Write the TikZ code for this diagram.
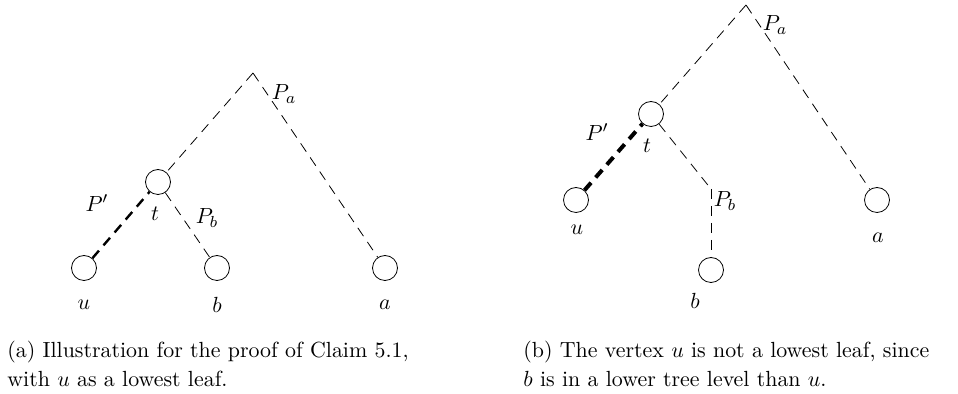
\documentclass[tikz,border=0pt]{standalone}
\usepackage{amsmath}
\usetikzlibrary{positioning}
\tikzstyle{vertex} = [
    circle,
    draw,
    minimum size=12.5pt,
    inner sep=0pt
]
\tikzstyle{pathedge} = [
    dash pattern=on 5pt off 3.5pt,
    thin
]
\tikzstyle{heavyedge} = [
    dash pattern=on 5pt off 3.5pt,
    line width=1.2pt
]
\tikzstyle{caption} = [
    align=left,
    anchor=north west,
    inner sep=0pt
]

\begin{document}
\begin{tikzpicture}[x=0.5pt, y=-0.5pt, every node/.style={font=\fontsize{10.95}{14.5}\selectfont}]
    \useasboundingbox (0,0) rectangle (958,394);

    % (a) u is a lowest leaf
    \coordinate (rootA) at (253, 73);
    \node[vertex] (tA) at (158, 182) {};
    \node[vertex] (uA) at (84, 268) {};
    \node[vertex] (bA) at (217, 268) {};
    \node[vertex] (aA) at (385, 268) {};

    \node (paA) at (284, 94) {$P_a$};
    \node (tlabA) at (155, 214) {$t$};
    \node (pprA) at (97, 203) {$P'$};
    \node (pbA) at (207, 218) {$P_b$};
    \node (ulabA) at (84, 305) {$u$};
    \node (blabA) at (217, 305) {$b$};
    \node (alabA) at (385, 305) {$a$};

    \draw[pathedge] (rootA) -- (tA);
    \draw[pathedge] (rootA) -- (aA);
    \draw[pathedge] (tA) -- (bA);
    \draw[heavyedge] (uA) -- (tA);

    % (b) b is lower than u
    \coordinate (rootB) at (746, 5);
    \coordinate (jB) at (711, 189);
    \node[vertex] (tB) at (651, 114) {};
    \node[vertex] (uB) at (576, 200) {};
    \node[vertex] (bB) at (711, 270) {};
    \node[vertex] (aB) at (877, 200) {};

    \node (paB) at (775, 25) {$P_a$};
    \node (tlabB) at (647, 146) {$t$};
    \node (pprB) at (597, 132) {$P'$};
    \node (pbB) at (725, 201) {$P_b$};
    \node (ulabB) at (577, 230) {$u$};
    \node (blabB) at (695, 301) {$b$};
    \node (alabB) at (878, 238) {$a$};

    \draw[pathedge] (rootB) -- (tB);
    \draw[pathedge] (rootB) -- (aB);
    \draw[pathedge] (tB) -- (jB);
    \draw[pathedge] (jB) -- (bB);
    \draw[heavyedge, line width=2pt] (uB) -- (tB);

    % captions
    \node[caption] (capA) at (7, 341) {(a) Illustration for the proof of Claim 5.1,\\with $u$ as a lowest leaf.};
    \node[caption] (capB) at (523, 341) {(b) The vertex $u$ is not a lowest leaf, since\\$b$ is in a lower tree level than $u$.};
\end{tikzpicture}
\end{document}
